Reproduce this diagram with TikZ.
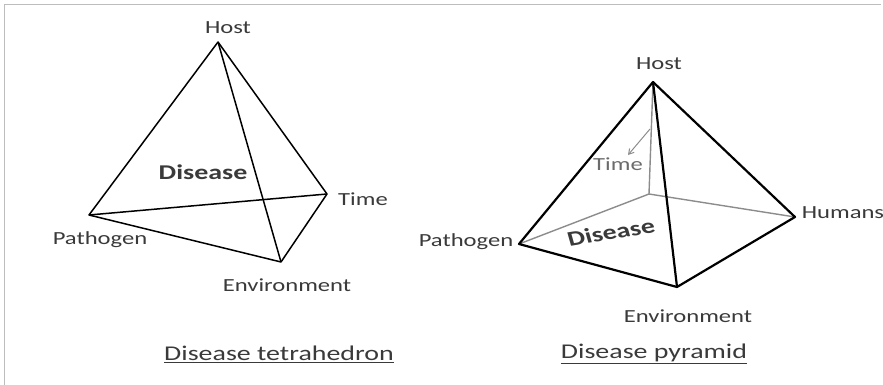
\documentclass[tikz,border=0pt]{standalone}
\usepackage{fontspec}
\setmainfont{Carlito}
\usetikzlibrary{arrows.meta}
\definecolor{labelgray}{HTML}{3A3A3A}
\definecolor{framegray}{HTML}{BDBDBD}
\definecolor{hiddengray}{HTML}{8C8C8C}
\begin{document}
\begin{tikzpicture}[x=1pt,y=-1pt,
  lbl/.style={font=\fontsize{18.5}{20}\selectfont, text=labelgray, inner sep=0pt, xscale=1.33, transform shape},
  bold lbl/.style={lbl, font=\fontsize{21}{23}\selectfont\bfseries},
  caption lbl/.style={lbl, font=\fontsize{21}{23}\selectfont},
  thin edge/.style={line width=1.5pt, line join=round, black},
  thick edge/.style={line width=2.2pt, line join=round, black},
  back edge/.style={line width=1.4pt, hiddengray}]
\useasboundingbox (0,0) rectangle (883,385);
% frame
\draw[framegray, line width=0.8pt] (4,385) -- (4,4) -- (881,4);

% ---- tetrahedron ----
\coordinate (tH) at (218,42);
\coordinate (tP) at (89,215);
\coordinate (tT) at (327,194);
\coordinate (tE) at (281,262);
\draw[thin edge] (tH) -- (tP) -- (tE) -- (tT) -- cycle;
\draw[thin edge] (tH) -- (tE);
\draw[thin edge] (tP) -- (tT);
\node[lbl] (tHost) at (228,28) {Host};
\node[bold lbl] (tDis) at (203,172) {Disease};
\node[lbl] (tTime) at (363,199) {Time};
\node[lbl] (tPath) at (100,240) {Pathogen};
\node[lbl] (tEnv) at (287,285) {Environment};
\node[caption lbl] (tCap) at (279,354) {\underline{Disease tetrahedron}};

% ---- pyramid ----
\coordinate (pH) at (653,82);
\coordinate (pP) at (519,244);
\coordinate (pE) at (677,287);
\coordinate (pU) at (795,217);
\coordinate (pB) at (649,194);
\coordinate (ta) at (650,129);
\coordinate (tb) at (628,155);
\draw[back edge] (pH) -- (pB);
\draw[back edge] (pP) -- (pB) -- (pU);
\draw[back edge, line width=1pt, -{Straight Barb[length=5pt,width=6pt]}] (ta) -- (tb);
\draw[thick edge] (pP) -- (pE) -- (pU) -- (pH) -- cycle;
\draw[thick edge] (pH) -- (pE);
\node[lbl] (pHost) at (659,64) {Host};
\node[lbl, text=hiddengray!60!labelgray] (pTime) at (618,164) {Time};
\node[bold lbl, rotate=12] (pDis) at (611,232) {Disease};
\node[lbl] (pHum) at (843,213) {Humans};
\node[lbl] (pPath) at (466,242) {Pathogen};
\node[lbl] (pEnv) at (688,316) {Environment};
\node[caption lbl] (pCap) at (654,354) {\underline{Disease pyramid}};
\end{tikzpicture}
\end{document}
